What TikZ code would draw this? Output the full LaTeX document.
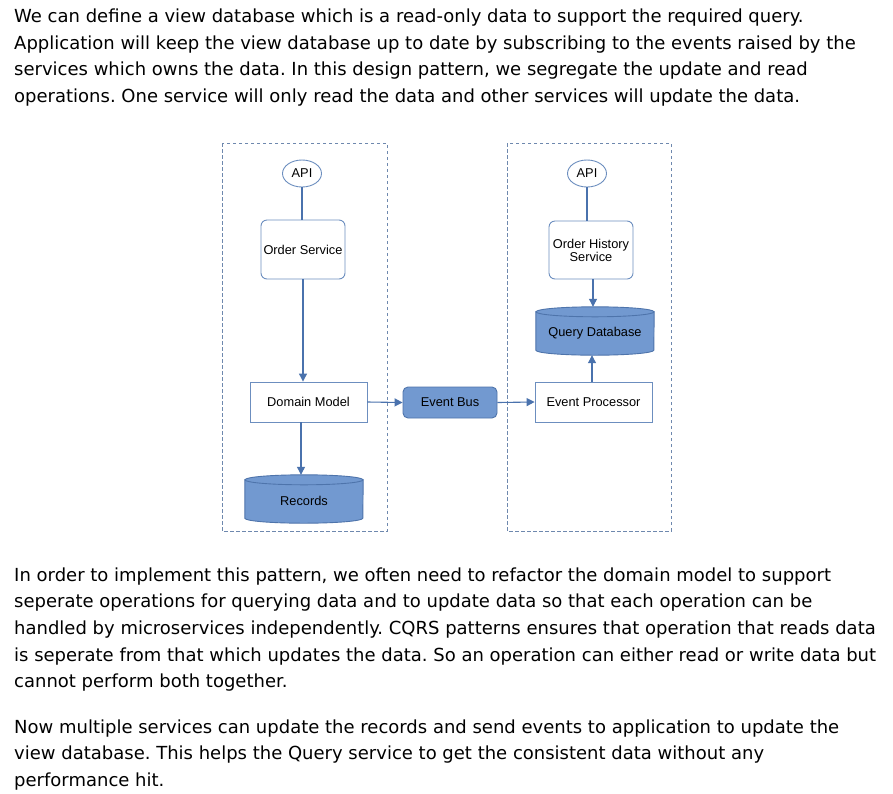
\documentclass[tikz,border=0pt]{standalone}
\usepackage{fontspec}
\setmainfont{DejaVu Sans}
\newfontfamily\dfont{Liberation Sans}
\usetikzlibrary{arrows.meta,shapes.geometric}
\frenchspacing
\definecolor{edgec}{HTML}{4A72AD}
\definecolor{boxc}{HTML}{6C8EBF}
\definecolor{fillc}{HTML}{7299D0}
\definecolor{fillstroke}{HTML}{4E74AB}
\definecolor{dashc}{HTML}{6E88AE}
\tikzset{
  bodytext/.style={anchor=base west, inner sep=0pt, font=\fontsize{18}{22}\selectfont\frenchspacing, text=black},
  dashbox/.style={draw=dashc, line width=0.9pt, dash pattern=on 3.5pt off 2.5pt},
  apinode/.style={ellipse, draw=boxc, line width=0.9pt, fill=white, minimum width=39pt, minimum height=27pt, inner sep=0pt, font=\dfont\fontsize{12.8}{14}\selectfont},
  rbox/.style={rectangle, rounded corners=6pt, draw=boxc, line width=0.9pt, fill=white, inner sep=0pt, align=center, font=\dfont\fontsize{12.8}{14}\selectfont},
  sbox/.style={rectangle, draw=boxc, line width=0.9pt, fill=white, inner sep=0pt, font=\dfont\fontsize{12.8}{14}\selectfont},
  busbox/.style={rectangle, rounded corners=5pt, draw=fillstroke, line width=0.9pt, fill=fillc, inner sep=0pt, font=\dfont\fontsize{12.8}{14}\selectfont},
  cylbox/.style={rectangle, inner sep=0pt, font=\dfont\fontsize{12.8}{14}\selectfont},
  cylpaint/.style={draw=fillstroke, line width=0.9pt, fill=fillc},
  link/.style={draw=edgec, line width=1.1pt},
  arr/.style={link, -{Triangle[length=8pt,width=8pt]}},
}
\begin{document}
\begin{tikzpicture}[x=1pt,y=-1pt]
\useasboundingbox[fill=white] (0,0) rectangle (893,793);

% paragraph 1
\node[bodytext] (p1a) at (14,22.5) {We can define a view database which is a read-only data to support the required query.};
\node[bodytext] (p1b) at (14,49.2) {Application will keep the view database up to date by subscribing to the events raised by the};
\node[bodytext] (p1c) at (14,75.9) {services which owns the data. In this design pattern, we segregate the update and read};
\node[bodytext] (p1d) at (14,102.5) {operations. One service will only read the data and other services will update the data.};

% paragraph 2
\node[bodytext] (p2a) at (14,581) {In order to implement this pattern, we often need to refactor the domain model to support};
\node[bodytext] (p2b) at (14,607.7) {seperate operations for querying data and to update data so that each operation can be};
\node[bodytext] (p2c) at (14,634.4) {handled by microservices independently. CQRS patterns ensures that operation that reads data};
\node[bodytext] (p2d) at (14,661) {is seperate from that which updates the data. So an operation can either read or write data but};
\node[bodytext] (p2e) at (14,687.7) {cannot perform both together.};

% paragraph 3
\node[bodytext] (p3a) at (14,733) {Now multiple services can update the records and send events to application to update the};
\node[bodytext] (p3b) at (14,759.7) {view database. This helps the Query service to get the consistent data without any};
\node[bodytext] (p3c) at (14,786.4) {performance hit.};

% dashed containers
\draw[dashbox] (222,143) rectangle (387,531);
\draw[dashbox] (507,143) rectangle (671,531);

% left column
\node[apinode] (api1) at (302,173.5) {API};
\node[rbox, minimum width=84pt, minimum height=59pt] (os) at (303,249.5) {Order Service};
\node[sbox, minimum width=117pt, minimum height=40pt] (dm) at (308.5,402) {Domain Model};
\node[cylbox, minimum width=118pt, minimum height=48pt] (rec) at (304,499) {};
\path[cylpaint] ([yshift=-5pt]rec.north west) -- ([yshift=5pt]rec.south west)
  arc[start angle=180, end angle=360, x radius=59pt, y radius=5pt]
  -- ([yshift=-5pt]rec.north east) -- cycle;
\path[cylpaint] ([yshift=-5pt]rec.north) ellipse[x radius=59pt, y radius=5pt];
\node[cylbox] (rect) at ([yshift=-2pt]rec.center) {Records};

% middle
\node[busbox, minimum width=94pt, minimum height=31pt] (bus) at (450,402.5) {Event Bus};

% right column
\node[apinode] (api2) at (587,173.5) {API};
\node[rbox, minimum width=84pt, minimum height=58pt] (ohs) at (591,250) {Order History\\[-1pt]Service};
\node[cylbox, minimum width=118pt, minimum height=48pt] (qdb) at (595,331) {};
\path[cylpaint] ([yshift=-5pt]qdb.north west) -- ([yshift=5pt]qdb.south west)
  arc[start angle=180, end angle=360, x radius=59pt, y radius=5pt]
  -- ([yshift=-5pt]qdb.north east) -- cycle;
\path[cylpaint] ([yshift=-5pt]qdb.north) ellipse[x radius=59pt, y radius=5pt];
\node[cylbox] (qdbt) at ([yshift=-2pt]qdb.center) {Query Database};
\node[sbox, minimum width=117pt, minimum height=40pt] (ep) at (593.5,402) {Event Processor};

% connectors
\draw[link] (api1.south) -- (api1.south |- os.north);
\draw[arr] (os.south) -- (os.south |- dm.north);
\draw[arr] ([xshift=-7.5pt]dm.south) -- ([xshift=-7.5pt]dm.south |- rec.north);
\draw[arr] (dm.east) -- (bus.west);
\draw[arr] (bus.east) -- (ep.west);
\draw[arr] ([xshift=-1.5pt]ep.north) -- ([xshift=-1.5pt]ep.north |- qdb.south);
\draw[link] (api2.south) -- (api2.south |- ohs.north);
\draw[arr] ([xshift=2pt]ohs.south) -- ([xshift=2pt]ohs.south |- qdb.north);
\end{tikzpicture}
\end{document}
